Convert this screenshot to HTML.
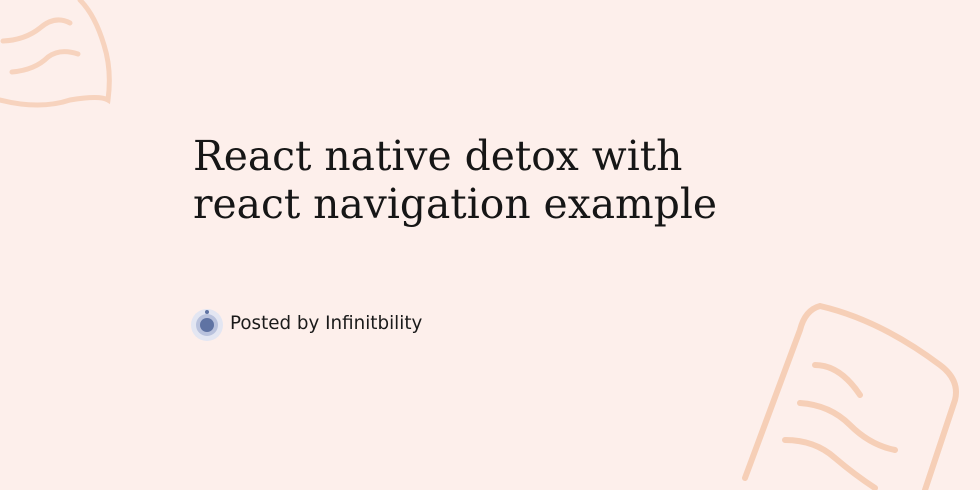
<!DOCTYPE html>
<html><head><style>
html,body{margin:0;padding:0}
body{width:980px;height:490px;background:#fdefeb;position:relative;overflow:hidden}
svg{position:absolute;left:0;top:0}
.t{position:absolute;left:193px;top:132px;font-family:"DejaVu Serif","Liberation Serif",serif;font-size:40.8px;line-height:48px;color:#161616}
.p{position:absolute;left:230px;top:313px;font-family:"DejaVu Sans","Liberation Sans",sans-serif;font-size:18.3px;color:#1a1a1a}
</style></head><body>
<svg width="980" height="490" viewBox="0 0 980 490">
<g fill="none" stroke="#f7d3be" stroke-width="5" stroke-linecap="round">
<path d="M0 100 Q40 110 70 100 Q100 95 108 100 Q112 70 104 45 Q95 15 80 0"/>
<path d="M3 41 Q25 40 40 28 Q55 15 70 23"/>
<path d="M12 72 Q35 70 48 57 Q60 48 78 54"/>
</g>
<g fill="none" stroke="#f6cfb7" stroke-width="6" stroke-linecap="round">
<path d="M820 306 Q880 320 940 365 Q960 380 955 400 L925 490 M820 306 Q805 310 800 330 L745 478"/>
<path d="M815 365 Q840 365 860 395"/>
<path d="M800 403 Q830 405 850 425 Q870 445 895 450"/>
<path d="M785 440 Q815 440 835 458 Q855 475 875 488"/>
</g>
<circle cx="207" cy="325" r="16" fill="#e3e6f2"/>
<circle cx="207" cy="325" r="11" fill="#b9c2dd"/>
<circle cx="207" cy="325" r="7" fill="#5f73a3"/>
<circle cx="207" cy="312" r="2" fill="#5f73a3"/>
</svg>
<div class="t">React native detox with<br>react navigation example</div>
<div class="p">Posted by Infinitbility</div>
</body></html>
